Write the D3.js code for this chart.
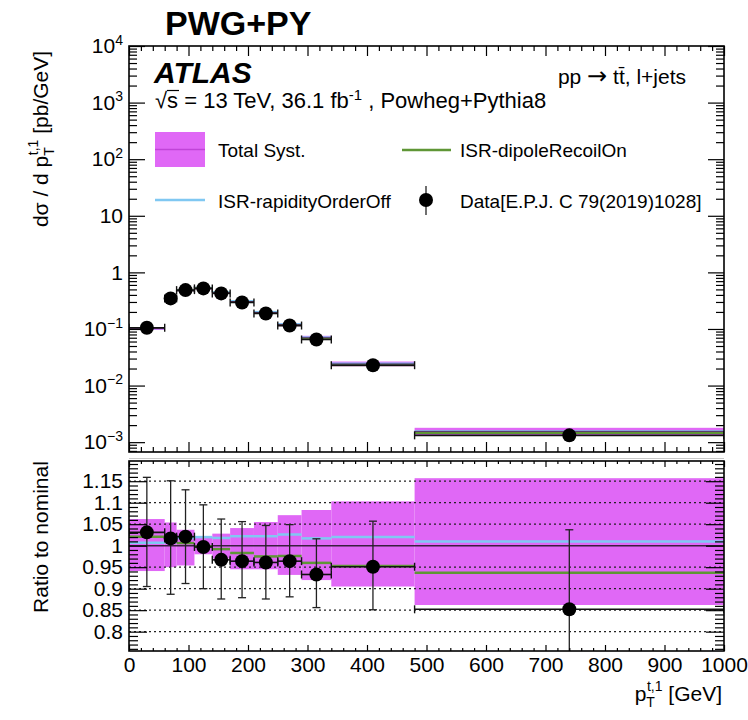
<!DOCTYPE html>
<html>
<head>
<meta charset="utf-8">
<script src="https://cdn.jsdelivr.net/npm/d3@7"></script>
<style>
  body { margin: 0; background: #fff; }
  svg { font-family: "Liberation Sans", Arial, Helvetica, sans-serif; }
</style>
</head>
<body>
<svg id="chart" width="748" height="720"></svg>
<script>
// bins in pT^{t,1} [GeV]
const binEdges = [0, 60, 80, 110, 140, 170, 210, 250, 290, 340, 480, 1000];

// top panel, dsigma/dpT [pb/GeV]
const dataXsec    = [0.105, 0.347, 0.486, 0.521, 0.425, 0.294, 0.188, 0.115, 0.0652, 0.0229, 0.00132];
const nominalXsec = [0.102, 0.341, 0.476, 0.523, 0.440, 0.305, 0.196, 0.119, 0.0699, 0.0241, 0.00155];

// ratio panel
const dataRatio     = [1.031, 1.017, 1.021, 0.997, 0.967, 0.964, 0.961, 0.964, 0.933, 0.951, 0.852];
const dataRatioUp   = [1.159, 1.151, 1.130, 1.095, 1.062, 1.056, 1.047, 1.049, 1.016, 1.057, 1.037];
const dataRatioDown = [0.905, 0.887, 0.912, 0.900, 0.876, 0.879, 0.876, 0.881, 0.856, 0.851, 0.667];
const systUp   = [1.062, 1.054, 1.037, 1.020, 1.028, 1.041, 1.055, 1.071, 1.083, 1.103, 1.157];
const systDown = [0.941, 0.950, 0.954, 0.980, 0.970, 0.945, 0.945, 0.932, 0.920, 0.905, 0.862];
const rapidityOrderOffRatio = [1.007, 1.008, 1.018, 1.020, 1.018, 1.022, 1.022, 1.026, 1.017, 1.020, 1.010];
const dipoleRecoilOnRatio   = [1.021, 1.015, 1.006, 0.998, 0.992, 0.983, 0.975, 0.976, 0.960, 0.953, 0.937];

// ticks
const xMajorTicks = d3.range(0, 1001, 100);
const xMinorTicks = d3.range(0, 1001, 20).filter(v => v % 100 !== 0);
const yTopMajorTicks = [1e-3, 1e-2, 1e-1, 1, 10, 1e2, 1e3, 1e4];
const ratioMajorTicks = [0.8, 0.85, 0.9, 0.95, 1, 1.05, 1.1, 1.15];
const ratioGrid = [0.8, 0.85, 0.9, 0.95, 1.05, 1.1, 1.15];

const magenta = '#e068f6';
const magentaDark = '#c044d8';
const blue = '#80c8f2';
const green = '#5f9636';

const L = 129, R = 724;
const topY0 = 46, topY1 = 452;
const ratY0 = 461, ratY1 = 651;

const svg = d3.select('#chart');

const x = d3.scaleLinear().domain([0, 1000]).range([L, R]);
const yTop = d3.scaleLog().domain([6.7e-4, 1e4]).range([topY1, topY0]);
const yRat = d3.scaleLinear().domain([0.755, 1.197]).range([ratY1, ratY0]);

const bins = dataXsec.map((v, i) => ({
    lo: binEdges[i], hi: binEdges[i + 1], mid: (binEdges[i] + binEdges[i + 1]) / 2, i
}));

// clip paths
const defs = svg.append('defs');
defs.append('clipPath').attr('id', 'clipTop').append('rect')
    .attr('x', L).attr('y', topY0).attr('width', R - L).attr('height', topY1 - topY0);
defs.append('clipPath').attr('id', 'clipRat').append('rect')
    .attr('x', L).attr('y', ratY0).attr('width', R - L).attr('height', ratY1 - ratY0);

// ---------- top panel ----------
const gTop = svg.append('g').attr('clip-path', 'url(#clipTop)');

gTop.selectAll('rect.band').data(bins).enter().append('rect')
    .attr('x', d => x(d.lo)).attr('width', d => x(d.hi) - x(d.lo))
    .attr('y', d => yTop(nominalXsec[d.i] * systUp[d.i]))
    .attr('height', d => Math.max(2, yTop(nominalXsec[d.i] * systDown[d.i]) - yTop(nominalXsec[d.i] * systUp[d.i])))
    .style('fill', magenta);

function histLines(g, scale, vals, color, width) {
    g.selectAll(null).data(bins).enter().append('line')
        .attr('x1', d => x(d.lo)).attr('x2', d => x(d.hi))
        .attr('y1', d => scale(vals(d.i))).attr('y2', d => scale(vals(d.i)))
        .style('stroke', color).style('stroke-width', width);
}
histLines(gTop, yTop, i => nominalXsec[i] * rapidityOrderOffRatio[i], blue, 2);
histLines(gTop, yTop, i => nominalXsec[i] * dipoleRecoilOnRatio[i], green, 2);
histLines(gTop, yTop, i => nominalXsec[i], '#552a5c', 1);

// data horizontal bars with caps
function dataXBars(g, yFn) {
    g.selectAll(null).data(bins).enter().append('line')
        .attr('x1', d => x(d.lo)).attr('x2', d => x(d.hi))
        .attr('y1', yFn).attr('y2', yFn)
        .style('stroke', '#111').style('stroke-width', 1.6);
    g.selectAll(null).data(bins.flatMap(d => [{ b: d, v: d.lo }, { b: d, v: d.hi }])).enter().append('line')
        .attr('x1', d => x(d.v)).attr('x2', d => x(d.v))
        .attr('y1', d => yFn(d.b) - 4).attr('y2', d => yFn(d.b) + 4)
        .style('stroke', '#111').style('stroke-width', 1.4);
}
dataXBars(gTop, d => yTop(dataXsec[d.i]));

gTop.selectAll('circle').data(bins).enter().append('circle')
    .attr('cx', d => x(d.mid)).attr('cy', d => yTop(dataXsec[d.i])).attr('r', 7)
    .style('fill', '#000');

// ---------- ratio panel ----------
const gRat = svg.append('g').attr('clip-path', 'url(#clipRat)');

gRat.selectAll('rect.band').data(bins).enter().append('rect')
    .attr('x', d => x(d.lo)).attr('width', d => x(d.hi) - x(d.lo))
    .attr('y', d => yRat(systUp[d.i]))
    .attr('height', d => yRat(systDown[d.i]) - yRat(systUp[d.i]))
    .style('fill', magenta);

gRat.selectAll('line.grid').data(ratioGrid).enter().append('line')
    .attr('x1', L).attr('x2', R).attr('y1', d => yRat(d)).attr('y2', d => yRat(d))
    .style('stroke', '#222').style('stroke-width', 1.3).style('stroke-dasharray', '2,3');

gRat.append('line')
    .attr('x1', L).attr('x2', R).attr('y1', yRat(1)).attr('y2', yRat(1))
    .style('stroke', '#3a1f40').style('stroke-width', 1.6);

histLines(gRat, yRat, i => rapidityOrderOffRatio[i], blue, 2.5);
histLines(gRat, yRat, i => dipoleRecoilOnRatio[i], green, 2.5);

// vertical error bars
gRat.selectAll(null).data(bins).enter().append('line')
    .attr('x1', d => x(d.mid)).attr('x2', d => x(d.mid))
    .attr('y1', d => yRat(dataRatioUp[d.i])).attr('y2', d => yRat(dataRatioDown[d.i]))
    .style('stroke', '#222').style('stroke-width', 1.3);
gRat.selectAll(null).data(bins.flatMap(d => [{ b: d, v: dataRatioUp[d.i] }, { b: d, v: dataRatioDown[d.i] }])).enter().append('line')
    .attr('x1', d => x(d.b.mid) - 4).attr('x2', d => x(d.b.mid) + 4)
    .attr('y1', d => yRat(d.v)).attr('y2', d => yRat(d.v))
    .style('stroke', '#222').style('stroke-width', 1.3);

dataXBars(gRat, d => yRat(dataRatio[d.i]));

gRat.selectAll('circle').data(bins).enter().append('circle')
    .attr('cx', d => x(d.mid)).attr('cy', d => yRat(dataRatio[d.i])).attr('r', 7)
    .style('fill', '#000');

// ---------- axes ----------
function styleAxis(g, fontSize) {
    g.select('.domain').remove();
    g.selectAll('.tick line').style('stroke', '#000').style('stroke-width', 1.2);
    g.selectAll('.tick text').style('font-size', fontSize + 'px').style('fill', '#000');
}
function addAxis(axis, tx, ty, fontSize) {
    const g = svg.append('g').attr('transform', `translate(${tx},${ty})`).call(axis);
    styleAxis(g, fontSize || 21);
    return g;
}

// top panel x ticks
addAxis(d3.axisBottom(x).tickValues(xMajorTicks).tickSize(-10).tickSizeOuter(0).tickFormat(''), 0, topY1);
addAxis(d3.axisBottom(x).tickValues(xMinorTicks).tickSize(-5).tickSizeOuter(0).tickFormat(''), 0, topY1);
addAxis(d3.axisTop(x).tickValues(xMajorTicks).tickSize(-10).tickSizeOuter(0).tickFormat(''), 0, topY0);
addAxis(d3.axisTop(x).tickValues(xMinorTicks).tickSize(-5).tickSizeOuter(0).tickFormat(''), 0, topY0);

// top panel y ticks
const yTopMinor = [];
[-4, -3, -2, -1, 0, 1, 2, 3].forEach(e => {
    for (let m = 2; m <= 9; m++) {
        const v = m * Math.pow(10, e);
        if (v >= 6.7e-4 && v <= 1e4) yTopMinor.push(v);
    }
});
const yLeft = addAxis(d3.axisLeft(yTop).tickValues(yTopMajorTicks).tickSize(-16).tickPadding(6).tickSizeOuter(0), L, 0);
yLeft.selectAll('.tick text').each(function (d) {
    const t = d3.select(this);
    const e = Math.round(Math.log10(d));
    t.text(null);
    if (e === 0) t.text('1');
    else if (e === 1) t.text('10');
    else {
        t.append('tspan').text('10');
        t.append('tspan').attr('dy', '-0.62em').style('font-size', '14px').text(e < 0 ? '\u2212' + (-e) : String(e));
    }
});
addAxis(d3.axisLeft(yTop).tickValues(yTopMinor).tickSize(-8).tickSizeOuter(0).tickFormat(''), L, 0);
addAxis(d3.axisRight(yTop).tickValues(yTopMajorTicks).tickSize(-16).tickSizeOuter(0).tickFormat(''), R, 0);
addAxis(d3.axisRight(yTop).tickValues(yTopMinor).tickSize(-8).tickSizeOuter(0).tickFormat(''), R, 0);

// ratio panel x ticks
addAxis(d3.axisBottom(x).tickValues(xMajorTicks).tickSize(-6).tickPadding(6).tickSizeOuter(0).tickFormat(d3.format('d')), 0, ratY1);
addAxis(d3.axisBottom(x).tickValues(xMinorTicks).tickSize(-3).tickSizeOuter(0).tickFormat(''), 0, ratY1);
addAxis(d3.axisTop(x).tickValues(xMajorTicks).tickSize(-6).tickSizeOuter(0).tickFormat(''), 0, ratY0);
addAxis(d3.axisTop(x).tickValues(xMinorTicks).tickSize(-3).tickSizeOuter(0).tickFormat(''), 0, ratY0);

// ratio y ticks
const ratioMinor = d3.range(76, 120).map(v => v / 100).filter(v => Math.round(v * 100) % 5 !== 0);
addAxis(d3.axisLeft(yRat).tickValues(ratioMajorTicks).tickSize(-18).tickPadding(6).tickSizeOuter(0)
    .tickFormat(d => d3.format('')(+d.toFixed(2))), L, 0);
addAxis(d3.axisLeft(yRat).tickValues(ratioMinor).tickSize(-9).tickSizeOuter(0).tickFormat(''), L, 0);
addAxis(d3.axisRight(yRat).tickValues(ratioMajorTicks).tickSize(-18).tickSizeOuter(0).tickFormat(''), R, 0);
addAxis(d3.axisRight(yRat).tickValues(ratioMinor).tickSize(-9).tickSizeOuter(0).tickFormat(''), R, 0);

// frames
svg.append('line').attr('x1', L).attr('x2', R).attr('y1', 458.5).attr('y2', 458.5)
    .style('stroke', '#c8c8c8').style('stroke-width', 1);
[[topY0, topY1], [ratY0, ratY1]].forEach(([a, b]) => {
    svg.append('rect').attr('x', L).attr('y', a).attr('width', R - L).attr('height', b - a)
        .style('fill', 'none').style('stroke', '#000').style('stroke-width', 1.6);
});

// ---------- texts ----------
svg.append('text').attr('x', 165).attr('y', 35)
    .style('font-size', '34px').style('font-weight', 'bold').text('PWG+PY');

svg.append('text').attr('x', 154).attr('y', 83)
    .style('font-size', '30px').style('font-weight', 'bold').style('font-style', 'italic').text('ATLAS');

const lumi = svg.append('text').attr('x', 155).attr('y', 108).style('font-size', '22px');
lumi.append('tspan').text('\u221As = 13 TeV, 36.1 fb');
lumi.append('tspan').attr('dy', '-0.55em').style('font-size', '15px').text('-1');
lumi.append('tspan').attr('dy', '0.38em').text(' , Powheg+Pythia8');
// overline on the root sign
svg.append('line').attr('x1', 167).attr('x2', 179).attr('y1', 90.5).attr('y2', 90.5)
    .style('stroke', '#000').style('stroke-width', 1.2);

const proc = svg.append('text').attr('x', 686).attr('y', 84).attr('text-anchor', 'end').style('font-size', '21px');
proc.append('tspan').text('pp ');
proc.append('tspan').style('font-family', '"DejaVu Sans", sans-serif').style('font-size', '24px').text('\u2192');
proc.append('tspan').text(' tt\u0304, l+jets');

// legend
svg.append('rect').attr('x', 155).attr('y', 132).attr('width', 50).attr('height', 35).style('fill', magenta);
svg.append('line').attr('x1', 155).attr('x2', 205).attr('y1', 149.5).attr('y2', 149.5)
    .style('stroke', magentaDark).style('stroke-width', 1.5);
svg.append('text').attr('x', 218).attr('y', 157).style('font-size', '19px').text('Total Syst.');

svg.append('line').attr('x1', 155).attr('x2', 205).attr('y1', 200).attr('y2', 200)
    .style('stroke', blue).style('stroke-width', 2.5);
svg.append('text').attr('x', 218).attr('y', 208).style('font-size', '19px').text('ISR-rapidityOrderOff');

svg.append('line').attr('x1', 402).attr('x2', 451).attr('y1', 150).attr('y2', 150)
    .style('stroke', green).style('stroke-width', 2.5);
svg.append('text').attr('x', 460).attr('y', 157).style('font-size', '19px').text('ISR-dipoleRecoilOn');

svg.append('line').attr('x1', 426).attr('x2', 426).attr('y1', 186).attr('y2', 215)
    .style('stroke', '#222').style('stroke-width', 1.3);
svg.append('circle').attr('cx', 426).attr('cy', 200).attr('r', 7).style('fill', '#000');
svg.append('text').attr('x', 460).attr('y', 208).style('font-size', '19px').text('Data[E.P.J. C 79(2019)1028]');

// axis titles: p_T^{t,1} with stacked sub/superscript
function ptLabel(t, before, after) {
    t.append('tspan').text(before);
    t.append('tspan').attr('dy', 6).style('font-size', '14px').text('T');
    t.append('tspan').attr('dx', -8).attr('dy', -16).style('font-size', '14px').text('t,1');
    t.append('tspan').attr('dy', 10).text(after);
}
const yTitle = svg.append('text').attr('transform', 'translate(48,139) rotate(-90)')
    .attr('text-anchor', 'middle').style('font-size', '21px');
ptLabel(yTitle, 'd\u03C3 / d p', ' [pb/GeV]');

svg.append('text').attr('transform', 'translate(48,537) rotate(-90)')
    .attr('text-anchor', 'middle').style('font-size', '21px').text('Ratio to nominal');

const xTitle = svg.append('text').attr('x', 722).attr('y', 701).attr('text-anchor', 'end').style('font-size', '21px');
ptLabel(xTitle, 'p', ' [GeV]');
</script>
</body>
</html>
